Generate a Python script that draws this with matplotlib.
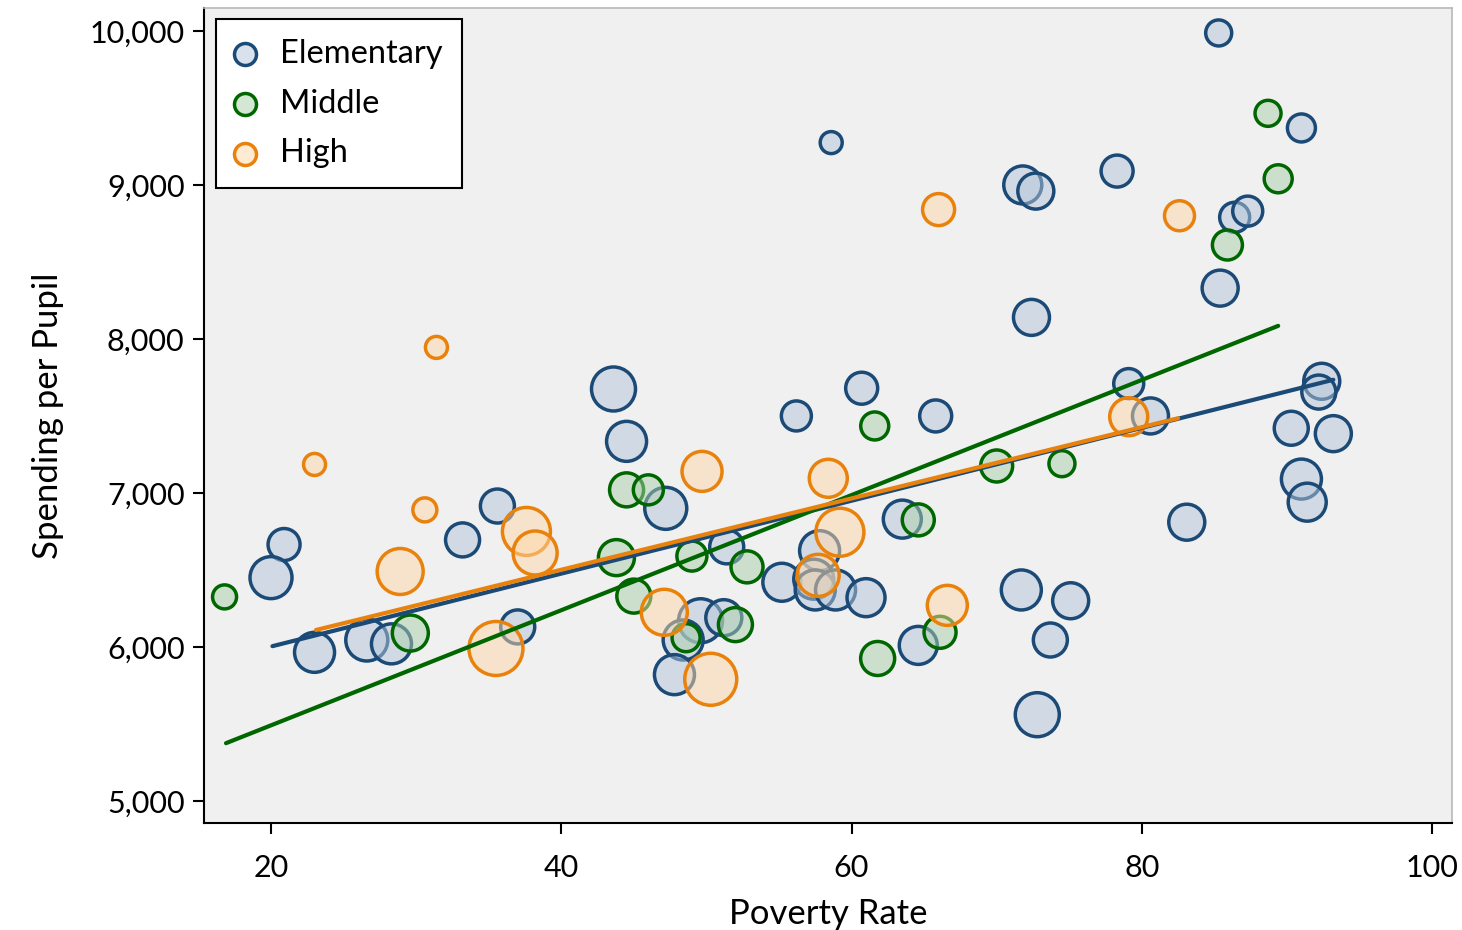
import matplotlib

matplotlib.use("Agg")
import matplotlib.pyplot as plt
from matplotlib.ticker import FuncFormatter
import numpy as np

plt.rcParams["font.family"] = ["Lato", "DejaVu Sans"]

# poverty rate, spending per pupil, bubble size (approx. marker radius)
elem_x = [85.3, 58.6, 91.0, 71.8, 72.7, 78.3, 86.4, 87.3, 85.4, 72.4,
          79.1, 80.6, 60.7, 56.2, 65.8, 43.6, 44.5, 92.4, 92.2, 90.3,
          93.2, 91.0, 91.4, 83.1, 35.6, 47.2, 33.2, 20.9, 20.0, 23.0,
          26.6, 28.3, 37.0, 63.5, 57.8, 55.2, 57.4, 57.5, 58.9, 61.0,
          51.4, 49.6, 51.2, 48.4, 47.8, 64.6, 71.7, 75.1, 73.7, 72.8]
elem_y = [9987, 9275, 9370, 9000, 8960, 9090, 8790, 8830, 8330, 8140,
          7710, 7500, 7680, 7500, 7500, 7675, 7335, 7725, 7655, 7420,
          7385, 7090, 6940, 6810, 6915, 6900, 6695, 6665, 6450, 5965,
          6045, 6020, 6130, 6830, 6625, 6420, 6440, 6370, 6370, 6320,
          6650, 6170, 6190, 6045, 5820, 6010, 6370, 6300, 6045, 5560]
elem_s = [13, 11, 14, 19, 18, 16, 15, 15, 18, 18,
          15, 18, 16, 15, 16, 22, 20, 18, 17, 17,
          18, 20, 19, 18, 17, 21, 17, 16, 21, 20,
          21, 20, 17, 19, 20, 19, 20, 20, 20, 19,
          17, 22, 18, 20, 20, 19, 20, 18, 17, 22]

mid_x = [88.7, 89.4, 85.9, 70.0, 74.5, 61.6, 44.5, 46.0, 43.8, 49.0,
         52.8, 64.6, 45.0, 48.6, 52.0, 61.8, 66.1, 16.8, 29.6]
mid_y = [9465, 9040, 8610, 7175, 7190, 7435, 7020, 7020, 6580, 6590,
         6520, 6825, 6330, 6060, 6145, 5925, 6095, 6325, 6090]
mid_s = [13, 14, 15, 16, 13, 14, 17, 15, 18, 15,
         16, 16, 17, 14, 17, 17, 16, 12, 18]

high_x = [82.6, 66.0, 31.4, 23.0, 30.6, 28.9, 37.6, 38.2, 35.5, 49.7,
          58.4, 59.2, 57.7, 47.1, 50.3, 66.6, 79.1]
high_y = [8800, 8840, 7945, 7185, 6890, 6490, 6750, 6610, 5990, 7140,
          7095, 6745, 6465, 6225, 5790, 6270, 7495]
high_s = [15, 16, 11, 11, 12, 23, 24, 22, 27, 20,
          19, 24, 21, 23, 26, 20, 19]

# fitted lines (endpoints)
elem_fit_x = [20.1, 93.2]
elem_fit_y = [6005, 7735]
mid_fit_x = [16.9, 89.4]
mid_fit_y = [5375, 8085]
high_fit_x = [23.1, 82.5]
high_fit_y = [6110, 7485]

groups = [
    ("Elementary", elem_x, elem_y, elem_s, elem_fit_x, elem_fit_y,
     "#1c4a76", (180 / 255, 198 / 255, 218 / 255, 0.5)),
    ("Middle", mid_x, mid_y, mid_s, mid_fit_x, mid_fit_y,
     "#006600", (170 / 255, 208 / 255, 170 / 255, 0.5)),
    ("High", high_x, high_y, high_s, high_fit_x, high_fit_y,
     "#e8820c", (1.0, 216 / 255, 168 / 255, 0.5)),
]

fig = plt.figure(figsize=(14.62, 9.30), dpi=100)
ax = fig.add_axes([0.1395, 0.1151, 0.8537, 0.8763])
ax.set_facecolor("#f0f0f0")

for name, xs, ys, rs, fx, fy, edge, face in groups:
    sizes = (2 * np.array(rs) * 0.72) ** 2
    ax.scatter(xs, ys, s=sizes, facecolors=[face], edgecolors=edge,
               linewidths=2.5, label=name, zorder=2)

for name, xs, ys, rs, fx, fy, edge, face in groups:
    ax.plot(fx, fy, color=edge, linewidth=3.0, solid_capstyle="round", zorder=3)

ax.set_xlim(15.38, 101.38)
ax.set_ylim(4857, 10149)
ax.set_xticks([20, 40, 60, 80, 100])
ax.set_yticks([5000, 6000, 7000, 8000, 9000, 10000])
ax.yaxis.set_major_formatter(FuncFormatter(lambda v, p: f"{int(v):,}"))
ax.tick_params(axis="both", labelsize=22, length=8, width=1.5, direction="out")
ax.tick_params(axis="x", pad=14)
ax.tick_params(axis="y", pad=6)

for side in ("left", "bottom"):
    ax.spines[side].set_color("black")
    ax.spines[side].set_linewidth(1.5)
for side in ("top", "right"):
    ax.spines[side].set_color("#b8b8b8")
    ax.spines[side].set_linewidth(1.2)

ax.set_xlabel("Poverty Rate", fontsize=25, labelpad=12)
ax.set_ylabel("Spending per Pupil", fontsize=25, labelpad=18)

leg = ax.legend(loc="upper left", bbox_to_anchor=(0.0096, 0.986), fontsize=23.5,
                frameon=True, fancybox=False, edgecolor="black",
                facecolor="white", framealpha=1, scatterpoints=1,
                handlelength=0.6, handletextpad=0.75, borderpad=0.6,
                labelspacing=0.6, borderaxespad=0)
leg.get_frame().set_linewidth(1.5)
for h in leg.legend_handles:
    h.set_sizes([(2 * 11 * 0.72) ** 2])

fig.savefig("out.png", dpi=100)
